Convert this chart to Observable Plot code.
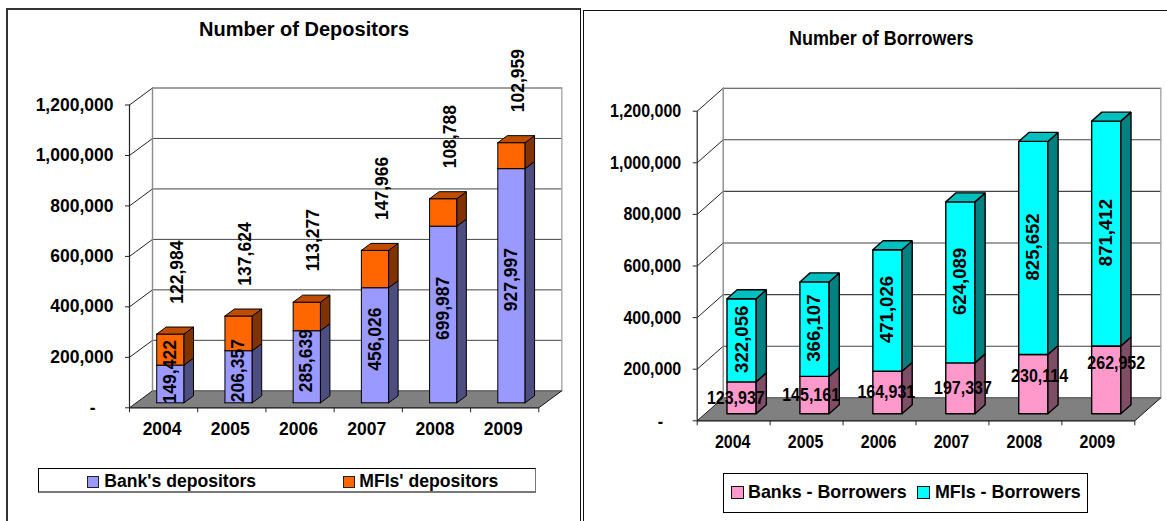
<!DOCTYPE html>
<html><head><meta charset="utf-8">
<script src="https://cdn.jsdelivr.net/npm/d3@7"></script>
<script src="https://cdn.jsdelivr.net/npm/@observablehq/plot@0.6"></script>
<style>
html,body{margin:0;padding:0;background:#fff;width:1167px;height:521px;overflow:hidden}
body{position:relative;font-family:"Liberation Sans",Arial,sans-serif;font-weight:bold;color:#000}
.abs{position:absolute;box-sizing:border-box}
.abs span{display:inline-block;white-space:nowrap;transform-origin:0 50%}
svg{position:absolute;top:0;background:transparent!important;overflow:visible}
</style></head><body>
<div id="root"></div>
<script>
const years = ["2004","2005","2006","2007","2008","2009"];
const depositorsBanks = [149422,206357,285639,456026,699987,927997];
const depositorsMfis = [122984,137624,113277,147966,108788,102959];
const borrowersBanks = [123937,145161,164931,197337,230114,262952];
const borrowersMfis = [322056,366107,471026,624089,825652,871412];
const yTicks = [200000,400000,600000,800000,1000000,1200000];

const root = document.getElementById("root");
function box(css, html){const d=document.createElement("div");d.className="abs";d.style.cssText=css;d.innerHTML=html||"";root.appendChild(d);return d;}

// panel frames
box("left:6px;top:8px;width:575px;height:560px;border:2px solid #333;border-right:1px solid #111");
box("left:583px;top:10px;width:640px;height:560px;border:1px solid #111;border-left-width:1.5px");

function chart(c){
  const pxX=(c.x1-c.x0)/6, pxY=(c.y0-c.yTop)/1200000;
  const DX=c.depthX/pxX, DY=c.depthY/pxY;
  const P=(u,v,z)=>({x:u+z*DX,y:v+z*DY});
  const poly=(id,fill,pts)=>[...pts,pts[0]].map(p=>({id,fill,...p}));
  // floor
  const floor=poly("floor","#808080",[P(0,0,0),P(6,0,0),P(6,0,1),P(0,0,1)]);
  // wall lines
  const wallH=[0,...yTicks].map(v=>[P(0,v,1),P(6,v,1)]).flatMap((s,i)=>s.map(p=>({id:"h"+i,...p})));
  const wallS=[0,...yTicks].map(v=>[P(0,v,0),P(0,v,1)]).flatMap((s,i)=>s.map(p=>({id:"s"+i,...p})));
  const edgeL=[P(0,0,1),P(0,1200000,1)].map(p=>({id:"l",...p}));
  const edgeR=[P(6,0,1),P(6,1200000,1)].map(p=>({id:"r",...p}));
  const floorR=[P(6,0,0),P(6,0,1)].map(p=>({id:"fr",...p}));
  // bars
  const faces=[];
  const w=0.4, a=c.z0, b=c.z1;
  years.forEach((yr,i)=>{
    const L=i+.5-w/2,R=i+.5+w/2;
    let base=0;
    c.series.forEach((s,k)=>{
      const top=base+s.values[i];
      faces.push(...poly(`f${i}${k}`,s.color,[P(L,base,a),P(R,base,a),P(R,top,a),P(L,top,a)]));
      faces.push(...poly(`d${i}${k}`,s.side,[P(R,base,a),P(R,base,b),P(R,top,b),P(R,top,a)]));
      if(k===c.series.length-1) faces.push(...poly(`t${i}${k}`,s.topc,[P(L,top,a),P(R,top,a),P(R,top,b),P(L,top,b)]));
      base=top;
    });
  });
  const labels=c.labels({P,pxX,pxY,w});
  const plot=Plot.plot({
    width:c.W,height:521,
    marginLeft:c.x0-c.left,marginRight:c.W-(c.x1-c.left),marginTop:c.yTop,marginBottom:521-c.y0,
    x:{domain:[0,6]},y:{domain:[0,1200000]},color:{type:"identity"},
    style:{fontFamily:"'Liberation Sans',Arial,sans-serif",fontWeight:"bold",fontSize:c.fs+"px",color:"#000",overflow:"visible"},
    marks:[
      Plot.line(floor,{x:"x",y:"y",z:"id",fill:"fill",stroke:"none"}),
      Plot.line(wallH,{x:"x",y:"y",z:"id",stroke:c.grid,strokeWidth:c.gridW}),
      Plot.line(wallS,{x:"x",y:"y",z:"id",stroke:"#222",strokeWidth:1}),
      Plot.line(edgeL,{x:"x",y:"y",stroke:"#8c8c8c",strokeWidth:1.4}),
      Plot.line(edgeR,{x:"x",y:"y",stroke:"#a8a8a8",strokeWidth:1.4}),
      Plot.line(floorR,{x:"x",y:"y",stroke:"#111",strokeWidth:1}),
      Plot.line(faces,{x:"x",y:"y",z:"id",fill:"fill",stroke:"#000",strokeWidth:c.barW,strokeLinejoin:"miter"}),
      Plot.ruleX([0],{y1:0,y2:1200000,stroke:"#222",strokeWidth:1.2}),
      Plot.ruleY([0],{x1:0,x2:6,stroke:"#111",strokeWidth:1.2}),
      Plot.axisY({ticks:yTicks,tickSize:4,tickPadding:c.yPad,tickFormat:d3.format(","),label:null,stroke:"#222"}),
      Plot.axisY({ticks:[0],tickSize:4,tickFormat:()=>"",label:null,stroke:"#222"}),
      Plot.text([0],{x:()=>0,y:d=>d,text:()=>"-",textAnchor:"end",dx:c.dashDx,dy:1,fill:"#000"}),
      Plot.axisX({ticks:d3.range(7),tickSize:5,tickFormat:()=>"",label:null,stroke:"#222"}),
      Plot.axisX({ticks:years.map((y,i)=>i+.5),tickSize:0,tickPadding:c.xPad,tickFormat:d=>years[d-.5],label:null,dx:c.xDx}),
      ...labels
    ]
  });
  plot.style.left=c.left+"px";
  root.appendChild(plot);
  if(c.squeeze){
    plot.querySelectorAll("text").forEach(t=>{
      const tr=t.getAttribute("transform")||"";
      if(tr.includes("rotate")||!t.textContent) return;
      t.setAttribute("textLength",(t.getComputedTextLength()*c.squeeze).toFixed(2));
      t.setAttribute("lengthAdjust","spacingAndGlyphs");
    });
  }
}

const rot={rotate:-90,textAnchor:"middle",lineAnchor:"middle",fill:"#000"};

chart({
  left:0,W:580,x0:129,x1:538.3,yTop:104.5,y0:407.3,depthX:23,depthY:17,z0:.294,z1:.706,
  fs:17.5,yPad:12,xPad:15,xDx:-1.5,dashDx:-34,grid:"#444",gridW:1,barW:1,
  series:[
    {values:depositorsBanks,color:"#9999ff",side:"#4d4d80",topc:"#7373bf"},
    {values:depositorsMfis,color:"#ff6600",side:"#803300",topc:"#bf4d00"}
  ],
  labels:({P})=>{
    const bank=years.map((y,i)=>{const v=depositorsBanks[i];const q=P(i+.5,Math.max(v/2+24000,123000),.294);return{...q,t:d3.format(",")(v)};});
    const mfi=years.map((y,i)=>{const v=depositorsBanks[i]+depositorsMfis[i];const q=P(i+.5,v,.294);return{...q,t:d3.format(",")(depositorsMfis[i])};});
    return [
      Plot.text(bank,{x:"x",y:"y",text:"t",...rot}),
      Plot.text(mfi,{x:"x",y:"y",text:"t",dx:7,dy:-62,...rot})
    ];
  }
});

chart({
  left:584,W:583,x0:696.7,x1:1134.3,yTop:110.7,y0:420.3,depthX:26,depthY:23,z0:.304,z1:.696,
  fs:18.6,yPad:12,xPad:14,xDx:-1,dashDx:-34,grid:"#444",gridW:1.1,barW:1.4,squeeze:.86,
  series:[
    {values:borrowersBanks,color:"#ff99cc",side:"#804d66",topc:"#bf7399"},
    {values:borrowersMfis,color:"#00ffff",side:"#008080",topc:"#00bfbf"}
  ],
  labels:({P,pxX})=>{
    const bank=years.map((y,i)=>{const v=borrowersBanks[i];
      const lift=Math.max(0,(v-200000)*1.05), shift=(v-175000)*10/88000/pxX;
      const q=P(i+.5+shift,v/2+lift,.304);return{...q,t:d3.format(",")(v)};});
    const mfi=years.map((y,i)=>{const b=borrowersBanks[i],v=borrowersMfis[i];const q=P(i+.5,b+v/2,.304);return{...q,t:d3.format(",")(v)};});
    return [
      Plot.text(mfi,{x:"x",y:"y",text:"t",dy:-1,...rot}),
      Plot.text(bank,{x:"x",y:"y",text:"t",textAnchor:"middle",lineAnchor:"middle",fill:"#000"})
    ];
  }
});

// titles
box("left:104px;width:400px;top:18px;text-align:center;font-size:20px;line-height:22px","<span>Number of Depositors</span>");
box("left:789px;top:27px;font-size:19.5px;line-height:23px","<span style='transform:scaleX(.92)'>Number of Borrowers</span>");

// legends
box("left:38px;top:468px;width:498px;height:25px;border:1px solid #000;border-right-color:#777;border-bottom:2px solid #777");
box("left:87px;top:476px;width:12px;height:12px;background:#9999ff;border:1px solid #222");
box("left:104.3px;top:470px;font-size:17.6px;line-height:22px","<span>Bank's depositors</span>");
box("left:343px;top:476px;width:12px;height:12px;background:#ff6600;border:1px solid #222");
box("left:359.3px;top:470px;font-size:17.6px;line-height:22px","<span>MFIs' depositors</span>");

box("left:723px;top:473px;width:365px;height:40px;border:1px solid #000");
box("left:730.5px;top:486px;width:13px;height:13px;background:#ff99cc;border:1.5px solid #111");
box("left:748.3px;top:480px;font-size:18.6px;line-height:24px","<span style='transform:scaleX(.96)'>Banks - Borrowers</span>");
box("left:917px;top:486px;width:13px;height:13px;background:#00ffff;border:1.5px solid #111");
box("left:934.7px;top:480px;font-size:18.6px;line-height:24px","<span style='transform:scaleX(.96)'>MFIs - Borrowers</span>");
</script>
</body></html>
